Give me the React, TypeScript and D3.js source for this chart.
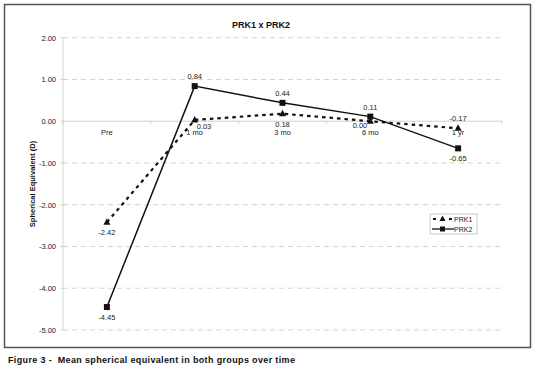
import React from "react";
import * as d3 from "d3";

const categories = ["Pre", "1 mo", "3 mo", "6 mo", "1 yr"];
const prk1 = [-2.42, 0.03, 0.18, 0.0, -0.17];
const prk2 = [-4.45, 0.84, 0.44, 0.11, -0.65];
const yTicks = [2, 1, 0, -1, -2, -3, -4, -5];

// where each value label sits relative to its marker
const prk1LabelPos = ["below", "belowRight", "below", "left", "above"];
const prk2LabelPos = ["below", "above", "above", "above", "below"];

const W = 536;
const H = 369;
const font = "'Liberation Sans', Arial, sans-serif";

const x = d3.scalePoint<string>().domain(categories).range([63, 502]).padding(0.5);
const y = d3.scaleLinear().domain([-5, 2]).range([330, 37.7]);

const line = d3
  .line<number>()
  .x((_, i) => x(categories[i]) as number)
  .y((d) => y(d));

function labelOffset(pos: string) {
  switch (pos) {
    case "above":
      return { dx: 0, dy: -7, anchor: "middle" };
    case "belowRight":
      return { dx: 2, dy: 9, anchor: "start" };
    case "left":
      return { dx: -3, dy: 7, anchor: "end" };
    default:
      return { dx: 0, dy: 13, anchor: "middle" };
  }
}

const fmt = (v: number) => v.toFixed(2);

export default function App() {
  const band = x.step();
  const boundaries = d3.range(categories.length + 1).map((i) => 63 + i * band);

  return (
    <svg
      width={W}
      height={H}
      style={{ position: "absolute", left: 0, top: 0, background: "#fff" }}
      fontFamily={font}
    >
      <rect x={4.5} y={4.5} width={526} height={343} fill="#fff" stroke="#555" strokeWidth={1.5} />

      <text x={261} y={28} textAnchor="middle" fontSize={9} fontWeight="bold" fill="#111">
        PRK1 x PRK2
      </text>

      {/* grid */}
      {yTicks
        .filter((t) => t !== 0)
        .map((t) => (
          <line
            key={t}
            x1={63}
            x2={502}
            y1={y(t)}
            y2={y(t)}
            stroke="#c8c8c8"
            strokeWidth={0.8}
            strokeDasharray="5,4"
          />
        ))}

      {/* y axis */}
      <line x1={63} x2={63} y1={y(2)} y2={y(-5)} stroke="#c8c8c8" strokeWidth={0.8} />
      {yTicks.map((t) => (
        <g key={t}>
          <line x1={60} x2={63} y1={y(t)} y2={y(t)} stroke="#c8c8c8" strokeWidth={0.8} />
          <text x={56} y={y(t) + 3} textAnchor="end" fontSize={7.5} fill="#222">
            {fmt(t)}
          </text>
        </g>
      ))}
      <text
        transform={`translate(35,184) rotate(-90)`}
        textAnchor="middle"
        fontSize={7.5}
        fontWeight="bold"
        fill="#111"
      >
        Spherical Equivalent (D)
      </text>

      {/* x axis at zero */}
      <line x1={63} x2={502} y1={y(0)} y2={y(0)} stroke="#c8c8c8" strokeWidth={0.9} />
      {boundaries.map((b, i) => (
        <line key={i} x1={b} x2={b} y1={y(0)} y2={y(0) + 3} stroke="#c8c8c8" strokeWidth={0.8} />
      ))}
      {categories.map((c) => (
        <text key={c} x={x(c)} y={y(0) + 14} textAnchor="middle" fontSize={7.5} fill="#222">
          {c}
        </text>
      ))}

      {/* PRK1 */}
      <path d={line(prk1) ?? ""} fill="none" stroke="#111" strokeWidth={2.2} strokeDasharray="3.5,4" />
      {prk1.map((v, i) => {
        const cx = x(categories[i]) as number;
        const cy = y(v);
        return (
          <path
            key={i}
            d={`M${cx},${cy - 4}L${cx + 3.5},${cy + 2.5}L${cx - 3.5},${cy + 2.5}Z`}
            fill="#111"
          />
        );
      })}

      {/* PRK2 */}
      <path d={line(prk2) ?? ""} fill="none" stroke="#111" strokeWidth={1.5} />
      {prk2.map((v, i) => {
        const cx = x(categories[i]) as number;
        const cy = y(v);
        return <rect key={i} x={cx - 3} y={cy - 3} width={6} height={6} fill="#111" />;
      })}

      {/* value labels */}
      {prk1.map((v, i) => {
        const o = labelOffset(prk1LabelPos[i]);
        return (
          <text
            key={`l1${i}`}
            x={(x(categories[i]) as number) + o.dx}
            y={y(v) + o.dy}
            textAnchor={o.anchor}
            fontSize={7.5}
            fill="#222"
          >
            {fmt(v)}
          </text>
        );
      })}
      {prk2.map((v, i) => {
        const o = labelOffset(prk2LabelPos[i]);
        return (
          <text
            key={`l2${i}`}
            x={(x(categories[i]) as number) + o.dx}
            y={y(v) + o.dy}
            textAnchor={o.anchor}
            fontSize={7.5}
            fill="#222"
          >
            {fmt(v)}
          </text>
        );
      })}

      {/* legend */}
      <g transform="translate(430,214)">
        <rect x={0} y={0} width={47} height={20} fill="#fff" stroke="#bbb" strokeWidth={0.8} />
        <line x1={3} x2={22} y1={5} y2={5} stroke="#111" strokeWidth={2} strokeDasharray="3,5" />
        <path d="M12.5,1.5L15.5,7L9.5,7Z" fill="#111" />
        <text x={24} y={8} fontSize={7} fill="#222">
          PRK1
        </text>
        <line x1={2} x2={24} y1={15} y2={15} stroke="#111" strokeWidth={1.3} />
        <rect x={10} y={12.5} width={5} height={5} fill="#111" />
        <text x={24} y={18} fontSize={7} fill="#222">
          PRK2
        </text>
      </g>

      <text
        x={8}
        y={363}
        fontSize={9}
        fontWeight="bold"
        fill="#111"
        letterSpacing={0.35}
        style={{ whiteSpace: "pre" }}
      >
        {"Figure 3 -  Mean spherical equivalent in both groups over time"}
      </text>
    </svg>
  );
}
